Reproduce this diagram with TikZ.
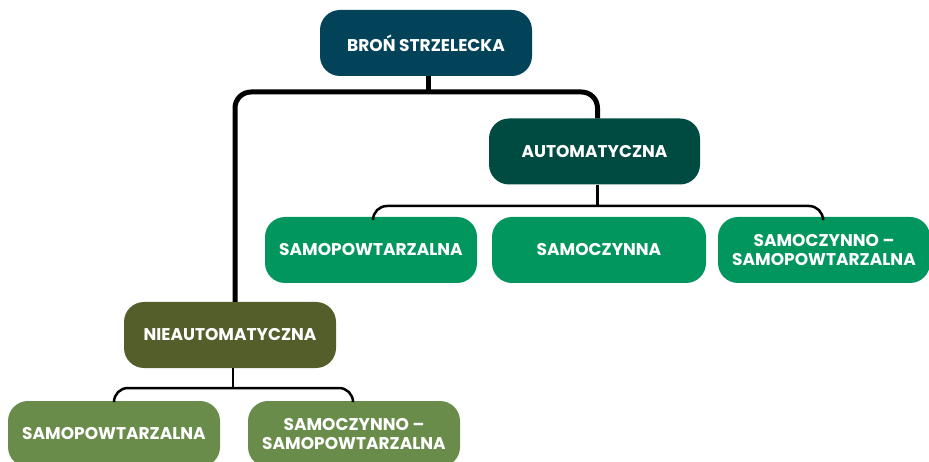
\documentclass[tikz,border=0pt]{standalone}
\usepackage{fontspec}
\setmainfont{Poppins}[BoldFont={* Bold}]
\definecolor{rootc}{HTML}{03435A}
\definecolor{autoc}{HTML}{004B41}
\definecolor{autochild}{HTML}{00965E}
\definecolor{niec}{HTML}{535E2B}
\definecolor{niechild}{HTML}{6A8C4A}
\tikzset{
  box/.style={rounded corners=20pt, minimum width=212pt, minimum height=66pt, inner sep=2pt,
    text=white, font=\bfseries\fontsize{17}{18.5}\selectfont, align=center},
  thickconn/.style={line width=5pt, rounded corners=16pt},
  thinconn/.style={line width=2.5pt, rounded corners=14pt}
}
\begin{document}
\begin{tikzpicture}[x=1pt,y=-1pt]
\useasboundingbox (0,0) rectangle (929,462);
\clip (0,0) rectangle (929,462);
\coordinate (h1) at (0,92);
\coordinate (h2) at (0,206);
\coordinate (h3) at (0,388);
\node[box, fill=rootc] (root) at (426,43) {BROŃ STRZELECKA};
\node[box, fill=autoc, minimum width=211pt] (auto) at (594.5,151.5) {AUTOMATYCZNA};
\node[box, fill=niec] (nie) at (230,335) {NIEAUTOMATYCZNA};
\node[box, fill=autochild] (a1) at (371,250) {SAMOPOWTARZALNA};
\node[box, fill=autochild, minimum width=214pt] (a2) at (599,250) {SAMOCZYNNA};
\node[box, fill=autochild] (a3) at (824,250) {SAMOCZYNNO –\\SAMOPOWTARZALNA};
\node[box, fill=niechild] (n1) at (114,434) {SAMOPOWTARZALNA};
\node[box, fill=niechild] (n2) at (354,434) {SAMOCZYNNO –\\SAMOPOWTARZALNA};
\draw[line width=5pt] ([xshift=2pt]root.south) -- ([xshift=2pt]root.south |- h1);
\draw[thickconn] ([xshift=5pt]nie.north) -- ([xshift=5pt]nie.north |- h1) -- ([xshift=3pt]auto.north |- h1) -- ([xshift=3pt]auto.north);
\draw[line width=2.5pt] ([xshift=3pt]auto.south) -- ([xshift=3pt]auto.south |- h2);
\draw[thinconn] ([xshift=2pt]a1.north) -- ([xshift=2pt]a1.north |- h2) -- ([xshift=-1pt]a3.north |- h2) -- ([xshift=-1pt]a3.north);
\draw[line width=2.5pt] ([xshift=3pt]nie.south) -- ([xshift=3pt]nie.south |- h3);
\draw[thinconn] (n1.north) -- (n1.north |- h3) -- ([xshift=-1pt]n2.north |- h3) -- ([xshift=-1pt]n2.north);
\end{tikzpicture}
\end{document}
